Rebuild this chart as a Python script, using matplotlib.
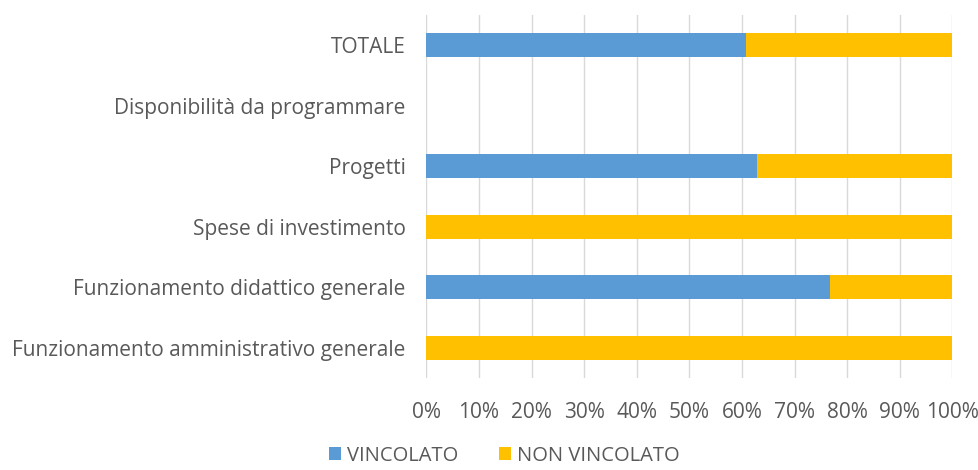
import matplotlib
matplotlib.use("Agg")
import matplotlib.pyplot as plt
from matplotlib.ticker import FuncFormatter, MultipleLocator

categories = ["Funzionamento amministrativo generale",
              "Funzionamento didattico generale",
              "Spese di investimento",
              "Progetti",
              "Disponibilità da programmare",
              "TOTALE"]
vincolato = [0.0, 76.7, 0.0, 62.8, 0.0, 60.7]
non_vincolato = [100.0, 23.3, 100.0, 37.2, 0.0, 39.3]
series_names = ["VINCOLATO", "NON VINCOLATO"]
colors = ["#5B9BD5", "#FFC000"]

plt.rcParams['font.family'] = ['Open Sans', 'DejaVu Sans']
text_color = "#595959"
fs = 15

fig = plt.figure(figsize=(9.79, 4.70), dpi=100)
ax = fig.add_axes([426.4/979, 1-378/470, (952.4-426.4)/979, (378-14.7)/470])

y = list(range(len(categories)))
ax.barh(y, vincolato, height=0.4, color=colors[0], label=series_names[0], zorder=3)
ax.barh(y, non_vincolato, left=vincolato, height=0.4, color=colors[1], label=series_names[1], zorder=3)

ax.set_xlim(0, 100)
ax.set_ylim(-0.5, len(categories)-0.5)
ax.set_yticks(y)
ax.set_yticklabels(categories)
ax.xaxis.set_major_locator(MultipleLocator(10))
ax.xaxis.set_major_formatter(FuncFormatter(lambda v, p: f"{int(round(v))}%"))
ax.tick_params(axis='y', length=0, pad=15, labelsize=fs, labelcolor=text_color)
ax.tick_params(axis='x', length=0, pad=17, labelsize=fs, labelcolor=text_color)
ax.grid(axis='x', color="#D9D9D9", linewidth=1, zorder=0)
for s in ax.spines.values():
    s.set_visible(False)

fig.legend(loc='lower center', bbox_to_anchor=(0.515, -0.03), ncol=2, frameon=False,
           fontsize=14.5, labelcolor=text_color, handlelength=0.6, handleheight=0.6,
           columnspacing=2.0, handletextpad=0.3)

fig.savefig("out.png", dpi=100)
